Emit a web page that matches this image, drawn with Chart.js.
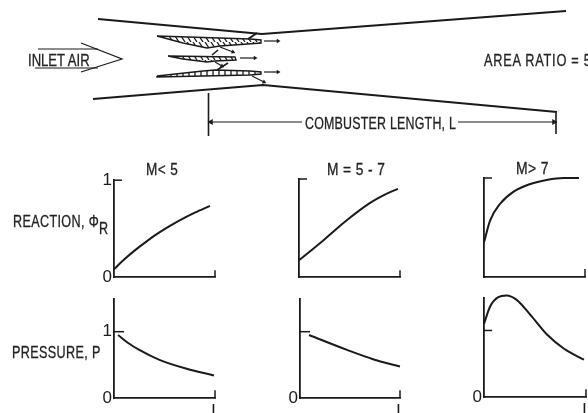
<!DOCTYPE html>
<html>
<head>
<meta charset="utf-8">
<script src="https://cdn.jsdelivr.net/npm/chart.js@4"></script>
<style>
html, body { margin: 0; background: #fff; }
#page { position: relative; width: 588px; height: 413px; overflow: hidden; background: #fff; filter: blur(0.35px); }
canvas { position: absolute; }
.lbl { position: absolute; white-space: nowrap; color: #222; line-height: 1; transform-origin: left center;
       font: 17px "Liberation Sans", sans-serif; -webkit-text-stroke: 0.3px #222; }
.lbl sub { font-size: 17px; line-height: 0; position: relative; top: 7px; vertical-align: baseline; }
</style>
</head>
<body>
<div id="page">
  <span class="lbl" style="left:28px;top:51px;transform:scaleX(.77)">INLET AIR</span>
  <span class="lbl" style="left:484px;top:51px;letter-spacing:1px;transform:scaleX(.75)">AREA RATIO = 5</span>
  <span class="lbl" style="left:305px;top:114px;letter-spacing:.3px;transform:scaleX(.73)">COMBUSTER LENGTH, L</span>
  <span class="lbl" style="left:146px;top:160px;letter-spacing:.5px;transform:scaleX(.8)">M&lt; 5</span>
  <span class="lbl" style="left:327px;top:160px;letter-spacing:.5px;transform:scaleX(.81)">M = 5 - 7</span>
  <span class="lbl" style="left:516px;top:159px;letter-spacing:.5px;transform:scaleX(.82)">M&gt; 7</span>
  <span class="lbl" style="left:13px;top:212px;letter-spacing:.5px;transform:scaleX(.74)">REACTION, &Phi;<sub>R</sub></span>
  <span class="lbl" style="left:12px;top:343px;letter-spacing:.5px;transform:scaleX(.74)">PRESSURE, P</span>
</div>
<script>
const ink = "#1a1a1a";
const labelFont = { family: '"Liberation Sans", sans-serif', size: 17 };

// curves, x is fraction of combustor length L
const reactionLowX = [0, 0.1, 0.2, 0.3, 0.42, 0.55, 0.65, 0.8, 0.95];
const reactionLowY = [0.08, 0.18, 0.27, 0.35, 0.44, 0.525, 0.585, 0.665, 0.735];
const reactionMidX = [0, 0.12, 0.24, 0.47, 0.7, 0.85, 0.98];
const reactionMidY = [0.17, 0.27, 0.373, 0.576, 0.753, 0.84, 0.9];
const reactionHighX = [0, 0.06, 0.16, 0.29, 0.46, 0.62, 0.79, 0.94];
const reactionHighY = [0.35, 0.57, 0.74, 0.86, 0.94, 0.98, 1, 1];
const pressureLowX = [0.04, 0.14, 0.25, 0.45, 0.72, 0.99];
const pressureLowY = [0.95, 0.83, 0.725, 0.575, 0.44, 0.34];
const pressureMidX = [0.09, 0.47, 0.73, 1];
const pressureMidY = [0.95, 0.725, 0.585, 0.475];
const pressureHighX = [0, 0.06, 0.14, 0.22, 0.32, 0.455, 0.62, 0.785, 0.98];
const pressureHighY = [1.1, 1.36, 1.5, 1.525, 1.46, 1.235, 0.935, 0.725, 0.56];

// schematic outline, in picture units
const upperWall = [[98, 19], [262, 34], [566, 11]];
const lowerWall = [[93, 99], [263, 85], [557, 112]];
const inletArrowHead = [[81, 43], [122, 59], [81, 72]];
const inletShaftTop = [[38, 49], [98, 49]];
const inletShaftBottom = [[35, 68], [98, 68]];
const strutTop = [[157, 36], [250, 39], [261, 40], [261, 43], [220, 46], [207, 48], [183, 43], [157, 36]];
const strutMiddle = [[168, 56], [235, 57], [236, 60], [215, 61], [207, 62], [183, 59], [168, 56]];
const strutBottom = [[157, 76], [203, 71], [215, 70], [250, 71], [261, 72], [261, 74], [250, 75], [157, 77], [157, 76]];
const strutLink = [[248, 39], [257, 33]];
const strutLinks = [[[212, 55], [218, 50]], [[228, 63], [217, 70]]];
const flowArrows = [
  [[264, 41], [278, 41]], [[240, 58], [255, 58]], [[264, 72], [278, 72]],
  [[220, 47], [233, 52]], [[215, 62], [222, 66]], [[252, 76], [264, 82]]
];
const lengthStopLeft = [[208.5, 93], [208.5, 136]];
const lengthStopRight = [[556, 113], [556, 134]];
const lengthArrowLeft = [[302, 122], [211, 122]];
const lengthArrowRight = [[458, 122], [554, 122]];

function toPoints(pairs) {
  return pairs.map(p => ({ x: p[0], y: p[1] }));
}

function zip(xs, ys) {
  return xs.map((x, i) => ({ x: x, y: ys[i] }));
}

function hatch(step, slant) {
  const c = document.createElement("canvas");
  c.width = step;
  c.height = step;
  const g = c.getContext("2d");
  g.strokeStyle = ink;
  g.lineWidth = 1.3;
  g.beginPath();
  g.moveTo(step / 2 - slant, 0);
  g.lineTo(step / 2 + slant, step);
  g.stroke();
  return g.createPattern(c, "repeat");
}

function stroke(pairs, width) {
  return { data: toPoints(pairs), showLine: true, borderColor: ink, borderWidth: width, pointRadius: 0, tension: 0, clip: false };
}

function strut(pairs, pattern) {
  return Object.assign(stroke(pairs, 1.4), { fill: "shape", backgroundColor: pattern });
}

function arrow(pairs, width, size) {
  const dx = pairs[1][0] - pairs[0][0];
  const dy = pairs[1][1] - pairs[0][1];
  return Object.assign(stroke(pairs, width), {
    pointStyle: "triangle",
    pointRadius: [0, size],
    pointRotation: Math.atan2(dx, -dy) * 180 / Math.PI,
    pointBackgroundColor: ink,
    pointBorderColor: ink,
    pointBorderWidth: 0
  });
}

const page = document.getElementById("page");

function addCanvas(left, top, width, height) {
  const c = document.createElement("canvas");
  c.style.left = left + "px";
  c.style.top = top + "px";
  c.width = width;
  c.height = height;
  page.insertBefore(c, page.firstChild);
  return c;
}

// schematic at the top of the figure
new Chart(addCanvas(0, 0, 588, 150), {
  type: "scatter",
  data: {
    datasets: [
      stroke(upperWall, 2),
      stroke(lowerWall, 2),
      stroke(inletArrowHead, 1.2),
      stroke(inletShaftTop, 1.2),
      stroke(inletShaftBottom, 1.2),
      strut(strutTop, hatch(6, 2)),
      strut(strutMiddle, hatch(6, 2)),
      strut(strutBottom, hatch(6, 0)),
      stroke(strutLink, 2),
      ...strutLinks.map(l => stroke(l, 1.6)),
      ...flowArrows.map(a => arrow(a, 1.2, 2.5)),
      stroke(lengthStopLeft, 1.6),
      stroke(lengthStopRight, 1.6),
      arrow(lengthArrowLeft, 1.2, 3.5),
      arrow(lengthArrowRight, 1.2, 3.5)
    ]
  },
  options: {
    responsive: false,
    animation: false,
    layout: { autoPadding: false },
    plugins: { legend: { display: false }, tooltip: { enabled: false } },
    scales: {
      x: { type: "linear", display: false, min: 0, max: 588 },
      y: { type: "linear", display: false, min: 0, max: 150, reverse: true }
    }
  }
});

const leftGutter = 30;
const topGutter = 12;
const bottomGutter = 24;
const rightGutter = 12;

function panel(cfg) {
  const width = leftGutter + cfg.right - cfg.left + rightGutter;
  const height = topGutter + cfg.bottom - cfg.top + bottomGutter;
  const canvas = addCanvas(cfg.left - leftGutter, cfg.top - topGutter, width, height);
  const tickLen = 8 / (cfg.right - cfg.left);
  new Chart(canvas, {
    type: "scatter",
    data: {
      datasets: [
        { data: cfg.curve, showLine: true, borderColor: ink, borderWidth: 2, pointRadius: 0, cubicInterpolationMode: "monotone", clip: false },
        { data: [{ x: 0, y: 1 }, { x: cfg.markLen || tickLen, y: 1 }], showLine: true, borderColor: ink, borderWidth: 1.5, pointRadius: 0, clip: false },
        { data: [{ x: 1, y: 0 }, { x: 1, y: cfg.endTick }], showLine: true, borderColor: ink, borderWidth: 1.5, pointRadius: 0, clip: false }
      ]
    },
    options: {
      responsive: false,
      animation: false,
      layout: { autoPadding: false, padding: { top: topGutter, right: rightGutter, bottom: 0, left: 0 } },
      plugins: { legend: { display: false }, tooltip: { enabled: false } },
      scales: {
        x: {
          type: "linear", min: 0, max: 1,
          grid: { display: false, drawTicks: false },
          border: { color: ink, width: 1.8 },
          afterBuildTicks: s => { s.ticks = cfg.xLabel ? [{ value: 1 }] : []; },
          afterFit: s => { s.height = bottomGutter; },
          ticks: { color: ink, font: labelFont, padding: 3, labelOffset: 1, maxRotation: 0, callback: () => cfg.xLabel }
        },
        y: {
          type: "linear", min: 0, max: cfg.yMax,
          grid: { display: false, drawTicks: false },
          border: { color: ink, width: 1.8 },
          afterBuildTicks: s => { s.ticks = cfg.yLabels.map(v => ({ value: v })); },
          afterFit: s => { s.width = leftGutter; },
          ticks: { color: ink, font: labelFont, padding: 2, callback: v => String(v) }
        }
      }
    }
  });
}

panel({ left: 114, right: 215, top: 179.5, bottom: 277, yMax: 1, yLabels: [0, 1], endTick: 0.07, curve: zip(reactionLowX, reactionLowY) });
panel({ left: 299, right: 400, top: 178.5, bottom: 276.5, yMax: 1, yLabels: [], endTick: 0.07, curve: zip(reactionMidX, reactionMidY) });
panel({ left: 484, right: 585, top: 177.5, bottom: 276.5, yMax: 1, yLabels: [], endTick: 0.08, curve: zip(reactionHighX, reactionHighY) });
panel({ left: 114, right: 215, top: 299, bottom: 398.5, yMax: 1.49, yLabels: [0, 1], endTick: 0.115, markLen: 0.1, xLabel: "L", curve: zip(pressureLowX, pressureLowY) });
panel({ left: 300, right: 400, top: 299, bottom: 398, yMax: 1.49, yLabels: [0], endTick: 0.115, markLen: 0.1, xLabel: "L", curve: zip(pressureMidX, pressureMidY) });
panel({ left: 484, right: 586, top: 298, bottom: 397, yMax: 1.485, yLabels: [0], endTick: 0.115, markLen: 0.08, xLabel: "L", curve: zip(pressureHighX, pressureHighY) });
</script>
</body>
</html>
